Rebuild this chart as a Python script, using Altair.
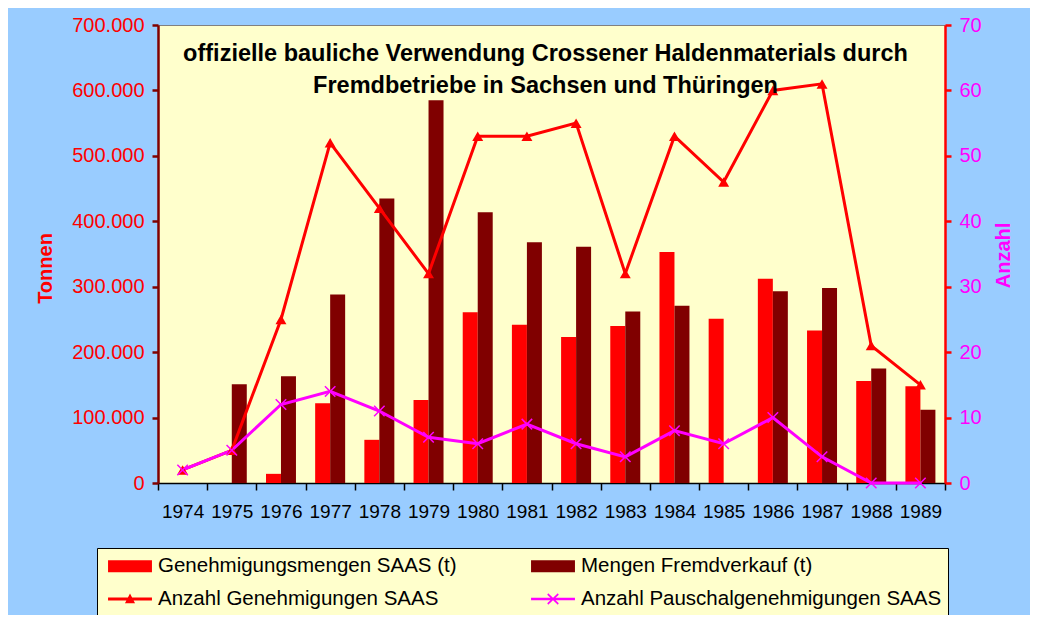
import altair as alt
import pandas as pd

FONT = "Liberation Sans"

years = [str(y) for y in range(1974, 1990)]

S1 = "Genehmigungsmengen SAAS (t)"
S2 = "Mengen Fremdverkauf (t)"
S3 = "Anzahl Genehmigungen SAAS"
S4 = "Anzahl Pauschalgenehmigungen SAAS"
series = [S1, S2, S3, S4]
colors = ["#FF0000", "#800000", "#FF0000", "#FF00FF"]

# tonnage (left axis)
gen_t = [None, None, 14000, 122000, 66000, 127000, 261000, 242000, 223000,
         240000, 353000, 251000, 312000, 233000, 156000, 148000]
fremd_t = [None, 151000, 163000, 288000, 435000, 585000, 414000, 368000, 361000,
           262000, 271000, None, 293000, 298000, 175000, 112000]
# counts (right axis)
anzahl_gen = [2, 5, 25, 52, 42, 32, 53, 53, 55, 32, 53, 46, 60, 61, 21, 15]
anzahl_pausch = [2, 5, 12, 14, 11, 7, 6, 9, 6, 4, 8, 6, 10, 4, 0, 0]

title_lines = ["offizielle bauliche Verwendung Crossener Haldenmaterials durch",
               "Fremdbetriebe in Sachsen und Thüringen"]

rows_t = []
for y, a, b in zip(years, gen_t, fremd_t):
    if a is not None:
        rows_t.append({"Jahr": y, "Reihe": S1, "Tonnen": a})
    if b is not None:
        rows_t.append({"Jahr": y, "Reihe": S2, "Tonnen": b})
df_t = pd.DataFrame(rows_t)

rows_n = []
for y, a, b in zip(years, anzahl_gen, anzahl_pausch):
    rows_n.append({"Jahr": y, "Reihe": S3, "Anzahl": a})
    rows_n.append({"Jahr": y, "Reihe": S4, "Anzahl": b})
df_n = pd.DataFrame(rows_n)

# legend symbol paths (filled shapes)
P_BAR = "M-0.58,-0.5H3.08V0.5H-0.58Z"
P_TRI = ("M-0.58,-0.12H3.08V0.12H-0.58Z "
         "M1.25,-0.45L1.67,0.35L0.83,0.35Z")
P_X = ("M-0.58,-0.1H3.08V0.1H-0.58Z "
       "M0.77,-0.36L0.85,-0.48L1.73,0.36L1.65,0.48Z "
       "M0.77,0.36L1.65,-0.48L1.73,-0.36L0.85,0.48Z")
legend_paths = [P_BAR, P_BAR, P_TRI, P_X]
X_MARK = "M-1,-1L1,1M-1,1L1,-1"

color_scale = alt.Scale(domain=series, range=colors)

legend = alt.Legend(
    orient="none", legendX=-61, legendY=523, columns=2, direction="horizontal",
    title=None, fillColor="#FFFFCC", strokeColor="black", padding=6,
    labelFont=FONT, labelFontSize=20.5, labelColor="black", labelLimit=600,
    symbolSize=576, labelOffset=31, columnPadding=69, rowPadding=10,
    symbolStrokeWidth=0, symbolOpacity=1,
)

x_enc = alt.X(
    "Jahr:N",
    scale=alt.Scale(domain=years, paddingInner=0, paddingOuter=0),
    axis=alt.Axis(title=None, labelAngle=0, labelFont=FONT, labelFontSize=19,
                  labelColor="black", domainColor="black", domainWidth=1.5,
                  tickColor="black", tickWidth=1.5, tickSize=7, tickBand="extent",
                  labelPadding=12),
)

y_t = alt.Y(
    "Tonnen:Q",
    scale=alt.Scale(domain=[0, 700000], nice=False),
    axis=alt.Axis(
        values=[0, 100000, 200000, 300000, 400000, 500000, 600000, 700000],
        labelExpr="datum.value == 0 ? '0' : format(datum.value / 1000, 'd') + '.000'",
        title="Tonnen", titleColor="#FF0000", titleFont=FONT, titleFontSize=20,
        titleFontWeight="bold", titleX=-113, titleY=243, titleAngle=270,
        titleAlign="center", titleBaseline="middle",
        labelColor="#FF0000", labelFont=FONT, labelFontSize=20, labelPadding=8,
        domainColor="#800000", domainWidth=2.5, tickColor="#800000", tickWidth=2.5,
        tickSize=6, grid=False,
    ),
)

y_n = alt.Y(
    "Anzahl:Q",
    scale=alt.Scale(domain=[0, 70], nice=False),
    axis=alt.Axis(
        orient="right", values=[0, 10, 20, 30, 40, 50, 60, 70],
        title="Anzahl", titleColor="#FF00FF", titleFont=FONT, titleFontSize=20,
        titleFontWeight="bold", titleAngle=270, titleX=58, titleY=230,
        titleAlign="center", titleBaseline="middle",
        labelColor="#FF00FF", labelFont=FONT, labelFontSize=20, labelPadding=8,
        domainColor="#FF0000", domainWidth=2.5, tickColor="#FF0000", tickWidth=2.5,
        tickSize=6, grid=False,
    ),
)

color_enc = alt.Color("Reihe:N", scale=color_scale, legend=legend)

bars = alt.Chart(df_t).mark_bar().encode(
    x=x_enc,
    xOffset=alt.XOffset("Reihe:N", scale=alt.Scale(domain=[S1, S2], paddingInner=0,
                                                   paddingOuter=0.64)),
    y=y_t,
    color=color_enc,
)

lines = alt.Chart(df_n).mark_line(strokeWidth=3).encode(
    x=x_enc, y=y_n, color=color_enc,
)

tri = alt.Chart(df_n).transform_filter(alt.datum.Reihe == S3).mark_point(
    shape="triangle-up", filled=True, size=120, opacity=1, color="#FF0000"
).encode(x=x_enc, y=y_n)

xs = alt.Chart(df_n).transform_filter(alt.datum.Reihe == S4).mark_point(
    shape=X_MARK, filled=False, size=110, strokeWidth=1.5, opacity=1, color="#FF00FF"
).encode(x=x_enc, y=y_n)

proxy = alt.Chart(df_n).transform_filter("false").mark_point(
    filled=True, opacity=1
).encode(
    x=x_enc, y=y_n,
    color=color_enc,
    shape=alt.Shape("Reihe:N", scale=alt.Scale(domain=series, range=legend_paths),
                    legend=legend),
)

right = alt.layer(lines, tri, xs, proxy)

chart = alt.layer(bars, right).resolve_scale(y="independent").properties(
    width=787, height=458,
    title=alt.TitleParams(
        text=title_lines, font=FONT, fontSize=23.5, fontWeight="bold", color="black",
        anchor="middle", frame="group", offset=-82, lineHeight=32, dx=-6,
    ),
    background="#99CCFF",
    padding={"left": 150, "top": 17, "right": 85, "bottom": 132},
    autosize=alt.AutoSizeParams(type="none"),
).configure_view(fill="#FFFFCC", stroke="#808080")

chart.save("out.html", embed_options={"renderer": "svg", "actions": False})
